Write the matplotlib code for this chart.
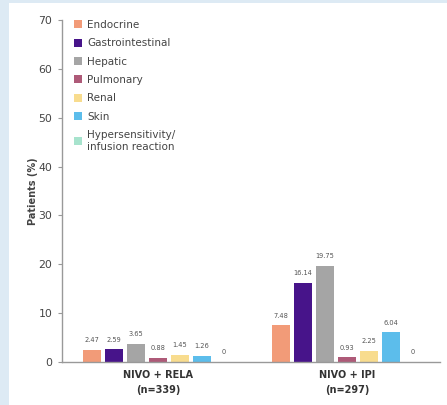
import matplotlib
matplotlib.use("Agg")
import matplotlib.pyplot as plt
from matplotlib.patches import Rectangle
import numpy as np

groups = ["NIVO + RELA\n(n=339)", "NIVO + IPI\n(n=297)"]
categories = ["Endocrine", "Gastrointestinal", "Hepatic", "Pulmonary",
              "Renal", "Skin", "Hypersensitivity/\ninfusion reaction"]
nivo_rela = [2.47, 2.59, 3.65, 0.88, 1.45, 1.26, 0]
nivo_ipi = [7.48, 16.14, 19.75, 0.93, 2.25, 6.04, 0]
colors = ["#F29B78", "#47148A", "#A5A5A5", "#AE5A78",
          "#F8DC8E", "#5CBDEB", "#A7E3CD"]
yticks = [0, 10, 20, 30, 40, 50, 60, 70]

fig = plt.figure(figsize=(4.47, 4.05), dpi=100)
fig.patch.set_facecolor("#DDEAF4")
# white slide panel
fig.add_artist(Rectangle((9 / 447, 0), 1, 1 - 3 / 405, transform=fig.transFigure,
                         facecolor="white", edgecolor="none", zorder=0))

ax = fig.add_axes([62 / 447, 1 - 362 / 405, 378 / 447, 342 / 405])
ax.set_facecolor("none")

step = 0.1164
width = 0.095
data = [nivo_rela, nivo_ipi]
for j, cat in enumerate(categories):
    vals = [d[j] for d in data]
    xs = np.arange(len(groups)) + (j - 3) * step
    ax.bar(xs, vals, width=width, color=colors[j], label=cat, zorder=2)
    for x, v in zip(xs, vals):
        ax.text(x, v + 1.4, f"{v:g}" if v == 0 else f"{v:.2f}",
                ha="center", va="bottom", fontsize=4.8, color="#555555")

ax.set_xlim(-0.508, 1.492)
ax.set_ylim(0, 70)
ax.set_yticks(yticks)
ax.set_xticks(np.arange(len(groups)))
ax.set_xticklabels(groups, fontsize=7, fontweight="bold", color="#333333",
                   linespacing=1.6)
ax.tick_params(axis="x", length=0, pad=6)
ax.tick_params(axis="y", length=3, width=0.8, color="#999999",
               labelsize=7.8, labelcolor="#444444", pad=4)
for s in ["top", "right"]:
    ax.spines[s].set_visible(False)
for s in ["left", "bottom"]:
    ax.spines[s].set_color("#999999")
    ax.spines[s].set_linewidth(1.0)

ax.set_ylabel("Patients (%)", fontsize=7, fontweight="bold", color="#444444",
              labelpad=0)

leg = ax.legend(loc="upper left", bbox_to_anchor=(0.02, 1.012), frameon=False,
                fontsize=7.5, handlelength=0.8, handleheight=0.8,
                handletextpad=0.5, labelspacing=0.8, borderaxespad=0)
for t in leg.get_texts():
    t.set_color("#444444")

fig.savefig("out.png", dpi=100, facecolor=fig.get_facecolor())
